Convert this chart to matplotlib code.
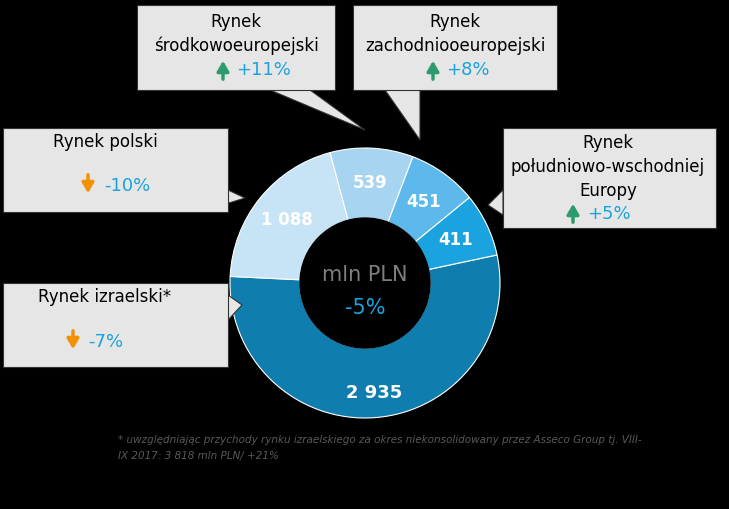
import matplotlib
matplotlib.use("Agg")
import matplotlib.pyplot as plt
from matplotlib.patches import Polygon
import numpy as np

segments = ["Rynek izraelski*", "Rynek polski", "Rynek środkowoeuropejski",
            "Rynek zachodnioeuropejski", "Rynek południowo-wschodniej Europy"]
values = [2935, 1088, 539, 451, 411]
value_labels = ["2 935", "1 088", "539", "451", "411"]
changes = ["-7%", "-10%", "+11%", "+8%", "+5%"]
colors = ["#0F7DAE", "#C7E4F6", "#A7D5F1", "#5DB9EB", "#1AA3DF"]
H = 509

fig = plt.figure(figsize=(7.29, 5.09), dpi=100, facecolor="black")
ax = fig.add_axes([0, 0, 1, 1])
ax.set_xlim(0, 729); ax.set_ylim(0, H); ax.set_aspect("equal"); ax.axis("off")
ax.set_facecolor("black")

cx, cy, R = 365, H - 283, 135
wedges, _ = ax.pie(values, colors=colors, startangle=12, counterclock=False,
                   center=(cx, cy), radius=R,
                   wedgeprops=dict(width=70, edgecolor="white", linewidth=0.8))
ax.set_xlim(0, 729); ax.set_ylim(0, H)
ax.add_patch(plt.Circle((cx, cy), R - 70, color="black", zorder=3))

for w, lab, i in zip(wedges, value_labels, range(5)):
    a = np.deg2rad((w.theta1 + w.theta2) / 2)
    r = R - 35 if i else R - 25
    ax.text(cx + r * np.cos(a), cy + r * np.sin(a), lab, color="white",
            fontsize=13 if i == 0 else 12, fontweight="bold", ha="center", va="center", zorder=4)

ax.text(cx, H - 275, "mln PLN", color="#7F7F7F", fontsize=15, ha="center", va="center", zorder=4)
ax.text(cx, H - 308, "-5%", color="#1AA3DF", fontsize=15, ha="center", va="center", zorder=4)

def box(x0, y0, x1, y1, tip, base):
    pts = [(x0, H - y0), (x1, H - y0), (x1, H - y1), (x0, H - y1)]
    ax.add_patch(Polygon(pts, closed=True, fc="#E6E6E6", ec="#333333", lw=0.8, zorder=5))
    ax.add_patch(Polygon([(base[0][0], H - base[0][1]), (tip[0], H - tip[1]),
                          (base[1][0], H - base[1][1])], closed=True,
                         fc="#E6E6E6", ec="#333333", lw=0.8, zorder=4))

def arrow(x, y, up):
    c = "#2E9B6E" if up else "#F39200"
    if up:
        ax.annotate("", xy=(x, H - y + 12), xytext=(x, H - y - 12),
                    arrowprops=dict(arrowstyle="-|>,head_width=0.35,head_length=0.6", color=c, lw=2.5), zorder=7)
    else:
        ax.annotate("", xy=(x, H - y - 12), xytext=(x, H - y + 12),
                    arrowprops=dict(arrowstyle="-|>,head_width=0.35,head_length=0.6", color=c, lw=2.5), zorder=7)

fs = 12
box(3, 128, 228, 212, (245, 198), [(200, 212), (228, 190)])
ax.text(105, H - 142, "Rynek polski", fontsize=fs, ha="center", va="center", zorder=6)
arrow(88, 184, False)
ax.text(104, H - 186, changes[1], fontsize=fs + 1, color="#1AA3DF", va="center", zorder=6)

box(137, 5, 335, 90, (365, 130), [(270, 90), (310, 90)])
ax.text(236, H - 22, "Rynek", fontsize=fs, ha="center", va="center", zorder=6)
ax.text(236, H - 46, "środkowoeuropejski", fontsize=fs, ha="center", va="center", zorder=6)
arrow(223, 70, True)
ax.text(236, H - 70, changes[2], fontsize=fs + 1, color="#1AA3DF", va="center", zorder=6)

box(353, 5, 557, 90, (420, 140), [(385, 90), (420, 90)])
ax.text(455, H - 22, "Rynek", fontsize=fs, ha="center", va="center", zorder=6)
ax.text(455, H - 46, "zachodniooeuropejski", fontsize=fs, ha="center", va="center", zorder=6)
arrow(433, 70, True)
ax.text(446, H - 70, changes[3], fontsize=fs + 1, color="#1AA3DF", va="center", zorder=6)

box(503, 128, 716, 228, (488, 205), [(503, 190), (503, 215)])
ax.text(608, H - 143, "Rynek", fontsize=fs, ha="center", va="center", zorder=6)
ax.text(608, H - 167, "południowo-wschodniej", fontsize=fs, ha="center", va="center", zorder=6)
ax.text(608, H - 191, "Europy", fontsize=fs, ha="center", va="center", zorder=6)
arrow(573, 213, True)
ax.text(587, H - 214, changes[4], fontsize=fs + 1, color="#1AA3DF", va="center", zorder=6)

box(3, 283, 228, 367, (242, 305), [(228, 295), (228, 320)])
ax.text(105, H - 297, "Rynek izraelski*", fontsize=fs, ha="center", va="center", zorder=6)
arrow(73, 340, False)
ax.text(88, H - 342, changes[0], fontsize=fs + 1, color="#1AA3DF", va="center", zorder=6)

ax.text(118, H - 440, "* uwzględniając przychody rynku izraelskiego za okres niekonsolidowany przez Asseco Group tj. VIII-",
        fontsize=7.5, style="italic", color="#595959", va="center")
ax.text(118, H - 456, "IX 2017: 3 818 mln PLN/ +21%", fontsize=7.5, style="italic", color="#595959", va="center")

fig.savefig("out.png", dpi=100, facecolor="black")
